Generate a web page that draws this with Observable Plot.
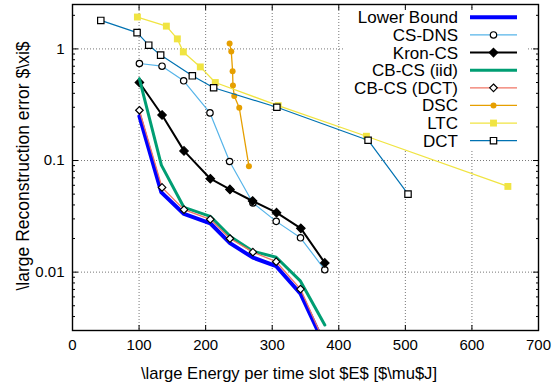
<!DOCTYPE html>
<html><head><meta charset="utf-8">
<script src="https://cdn.jsdelivr.net/npm/d3@7"></script>
<script src="https://cdn.jsdelivr.net/npm/@observablehq/plot@0.6"></script>
<style>
body{margin:0;background:#fff;font-family:"Liberation Sans",Arial,sans-serif;}
#chart{position:relative;width:553px;height:390px;}
</style></head><body><div id="chart"></div>
<script>
// Series names (legend order)
const seriesNames = ["Lower Bound","CS-DNS","Kron-CS","CB-CS (iid)","CB-CS (DCT)","DSC","LTC","DCT"];
// Energy (x) and error (y) values per series
const lowerBoundX = [100.5,133.5,167.5,207,236.5,271,306,342.5,379];
const lowerBoundY = [0.25,0.0518,0.0332,0.0274,0.0182,0.0135,0.0113,0.0064,0.0022];
const csDnsX = [100.5,134.5,167,206.5,236,271,306,342.5,379];
const csDnsY = [0.74,0.70,0.518,0.267,0.098,0.0417,0.0285,0.0203,0.0105];
const kronX = [100.5,134.5,167.5,207,236.5,270.5,306.5,343,379];
const kronY = [0.50,0.256,0.122,0.0687,0.0551,0.0434,0.0341,0.0247,0.0121];
const cbIidX = [100.5,133.5,167.5,207,236.5,271,306,342.5,379];
const cbIidY = [0.54,0.091,0.038,0.0316,0.021,0.0154,0.0136,0.0083,0.00336];
const cbDctX = [100.5,134.5,167.5,207,236.5,271,306,342.5,379];
const cbDctY = [0.282,0.0574,0.0363,0.0297,0.020,0.0151,0.0124,0.00705,0.0023];
const dscX = [236,238.5,240.5,241,243,250.5,265];
const dscY = [1.12,0.95,0.63,0.47,0.378,0.297,0.089];
const ltcX = [97.5,141,157.5,166.5,192,214.5,309,441.5,654];
const ltcY = [1.93,1.60,1.23,0.94,0.69,0.50,0.31,0.165,0.0586];
const dctX = [42.5,97,114.5,132.4,180,212,307,444,504];
const dctY = [1.80,1.40,1.08,0.88,0.574,0.449,0.30,0.152,0.050];
// Axis ticks
const xTicks = [0,100,200,300,400,500,600,700];
const yMajor = [0.01,0.1,1];
const yMinor = [0.003,0.004,0.005,0.006,0.007,0.008,0.009,0.02,0.03,0.04,0.05,0.06,0.07,0.08,0.09,0.2,0.3,0.4,0.5,0.6,0.7,0.8,0.9,2];

const xs = [lowerBoundX,csDnsX,kronX,cbIidX,cbDctX,dscX,ltcX,dctX];
const ys = [lowerBoundY,csDnsY,kronY,cbIidY,cbDctY,dscY,ltcY,dctY];
const styles = [
  {color:"#0000ff", width:4, symbol:null},
  {color:"#56b4e9", width:1.2, symbol:"circle", fill:"white", mstroke:"black", r:3.2},
  {color:"#000000", width:2, symbol:"diamond2", fill:"black", mstroke:"black", r:3.8},
  {color:"#009e73", width:3, symbol:null},
  {color:"#f07565", width:1.3, symbol:"diamond2", fill:"white", mstroke:"black", r:3.4},
  {color:"#e69f00", width:1.3, symbol:"circle", fill:"#e69f00", mstroke:"none", r:3},
  {color:"#f0e442", width:1.3, symbol:"square", fill:"#f0e442", mstroke:"none", r:3.9},
  {color:"#0072b2", width:1.2, symbol:"square", fill:"white", mstroke:"black", r:3.6}
];
const data = seriesNames.map((name,i)=>xs[i].map((x,j)=>({series:name,x,y:ys[i][j]})));

const marks = [
  Plot.gridX(xTicks.slice(1,-1), {stroke:"#777", strokeOpacity:1, strokeDasharray:"1,2", strokeWidth:1}),
  Plot.gridY(yMajor, {stroke:"#777", strokeOpacity:1, strokeDasharray:"1,2", strokeWidth:1}),
];
data.forEach((d,i)=>{
  const s = styles[i];
  marks.push(Plot.line(d,{x:"x",y:"y",stroke:s.color,strokeWidth:s.width,clip:true,strokeLinejoin:"miter"}));
  if (s.symbol) marks.push(Plot.dot(d,{x:"x",y:"y",symbol:()=>s.symbol,fill:s.fill,stroke:s.mstroke,strokeWidth:1.2,r:s.r,clip:true}));
});
marks.push(
  Plot.axisX(xTicks,{anchor:"bottom",tickSize:-5,tickPadding:14,fontSize:15}),
  Plot.axisX(xTicks,{anchor:"top",tickSize:-5,text:null,label:null}),
  Plot.axisY(yMajor,{anchor:"left",tickSize:-6,tickPadding:14,fontSize:15,tickFormat:d=>String(d),label:null}),
  Plot.axisY(yMinor,{anchor:"left",tickSize:-3,text:null,label:null}),
  Plot.axisY(yMajor,{anchor:"right",tickSize:-6,text:null,label:null}),
  Plot.axisY(yMinor,{anchor:"right",tickSize:-3,text:null,label:null}),
  Plot.frame({stroke:"black",strokeWidth:1.4})
);

const chart = Plot.plot({
  width:553, height:390,
  marginLeft:72, marginRight:15, marginTop:4, marginBottom:60,
  style:{fontFamily:"'Liberation Sans', Arial, sans-serif", fontSize:"15px", color:"black", background:"white"},
  x:{domain:[0,700], label:null},
  y:{type:"log", domain:[0.003,2.5], label:null},
  marks
});
document.getElementById("chart").appendChild(chart);

// Axis titles and legend added to the same SVG
const svg = d3.select(chart);
svg.append("text").attr("x",289).attr("y",379).attr("text-anchor","middle")
  .style("font-size","16.6px").text("\\large Energy per time slot $E$ [$\\mu$J]");
svg.append("text").attr("transform","translate(29,166) rotate(-90)").attr("text-anchor","middle")
  .style("font-size","17.5px").text("\\large Reconstruction error $\\xi$");

// legend background sits above the grid but below the data lines
const firstLine = chart.querySelector("g[aria-label='line']");
const bg = document.createElementNS("http://www.w3.org/2000/svg","rect");
bg.setAttribute("x",343); bg.setAttribute("y",9); bg.setAttribute("width",184); bg.setAttribute("height",142); bg.setAttribute("fill","white");
firstLine.parentNode.insertBefore(bg, firstLine);

const lg = svg.append("g");
seriesNames.forEach((name,i)=>{
  const s = styles[i];
  const cy = 17.3 + i*17.63;
  lg.append("text").attr("x",458).attr("y",cy+6).attr("text-anchor","end").style("font-size","17px").text(name);
  lg.append("line").attr("x1",470).attr("x2",517).attr("y1",cy).attr("y2",cy)
    .attr("stroke",s.color).attr("stroke-width",s.width);
  if (s.symbol){
    const sym = {circle:d3.symbolCircle,diamond2:d3.symbolDiamond2,square:d3.symbolSquare}[s.symbol];
    lg.append("path").attr("d",d3.symbol(sym, Math.PI*s.r*s.r)())
      .attr("transform",`translate(493.5,${cy})`).attr("fill",s.fill).attr("stroke",s.mstroke).attr("stroke-width",1.2);
  }
});
</script></body></html>
